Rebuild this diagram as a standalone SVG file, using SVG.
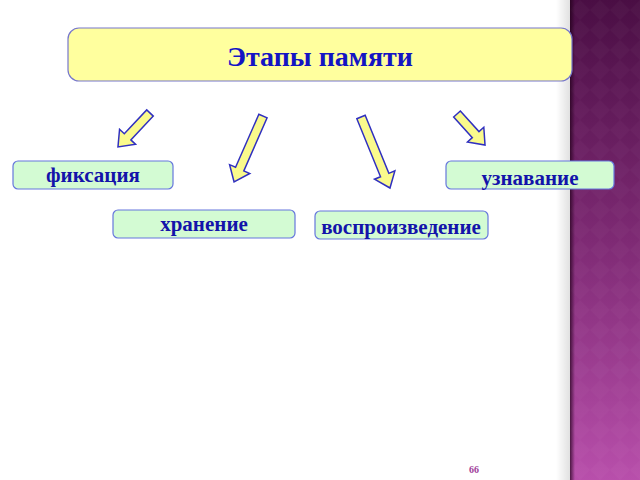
<svg xmlns="http://www.w3.org/2000/svg" width="640" height="480" viewBox="0 0 640 480">
<defs>
<linearGradient id="panel" x1="0" y1="0" x2="0" y2="1">
<stop offset="0" stop-color="#4a0e44"/>
<stop offset="0.5" stop-color="#7e2a74"/>
<stop offset="1" stop-color="#b84fab"/>
</linearGradient>
<linearGradient id="shade" x1="0" y1="0" x2="1" y2="0">
<stop offset="0" stop-color="#000" stop-opacity="0"/>
<stop offset="1" stop-color="#000" stop-opacity="0.12"/>
</linearGradient>
<linearGradient id="edge" x1="0" y1="0" x2="1" y2="0">
<stop offset="0" stop-color="#200018" stop-opacity="0.7"/>
<stop offset="1" stop-color="#200018" stop-opacity="0"/>
</linearGradient>
<pattern id="diam" width="20" height="20" patternUnits="userSpaceOnUse" x="570">
<path d="M10 0 L20 10 L10 20 L0 10 Z" fill="#ffffff" fill-opacity="0.025"/>
</pattern>
</defs>
<style>
.box{fill:#d3fbd3;stroke:#6677dd;stroke-width:1.2}
.lbl{font-family:"Liberation Serif","DejaVu Serif",serif;font-weight:bold;font-size:21px;fill:#1313aa;text-anchor:middle}
.arrow{fill:#fafa8c;stroke:#3030c0;stroke-width:1.5;stroke-linejoin:miter}
</style>
<rect width="640" height="480" fill="#ffffff"/>
<rect x="556" y="0" width="14" height="480" fill="url(#shade)"/>
<g id="panel-bg">
<rect x="570" y="0" width="70" height="480" fill="url(#panel)"/>
<rect x="570" y="0" width="70" height="480" fill="url(#diam)"/>
<rect x="570" y="0" width="5" height="480" fill="url(#edge)"/>
</g>
<g id="title">
<rect x="68" y="28" width="504" height="53" rx="11" fill="#ffff9e" stroke="#7777cc" stroke-width="1.2"/>
<text x="320" y="66" style="font-family:'Liberation Serif','DejaVu Serif',serif;font-weight:bold;font-size:28px;fill:#1414c4;text-anchor:middle">Этапы памяти</text>
</g>
<g id="connectors">
<polygon class="arrow" transform="translate(150,113) rotate(133.3)" points="0,-4.5 32.7,-4.5 32.7,-11 46.7,0 32.7,11 32.7,4.5 0,4.5"/>
<polygon class="arrow" transform="translate(263,116) rotate(113.7)" points="0,-4.5 58,-4.5 58,-11 72,0 58,11 58,4.5 0,4.5"/>
<polygon class="arrow" transform="translate(361,117) rotate(67.8)" points="0,-4.5 62.7,-4.5 62.7,-11 76.7,0 62.7,11 62.7,4.5 0,4.5"/>
<polygon class="arrow" transform="translate(457,114) rotate(47.9)" points="0,-4.5 27.8,-4.5 27.8,-11 41.8,0 27.8,11 27.8,4.5 0,4.5"/>
</g>
<g id="fixation">
<rect class="box" x="13" y="161" width="160" height="28" rx="5"/>
<text class="lbl" x="93" y="182">фиксация</text>
</g>
<g id="storage">
<rect class="box" x="113" y="210" width="182" height="28" rx="5"/>
<text class="lbl" x="204" y="231">хранение</text>
</g>
<g id="reproduction">
<rect class="box" x="315" y="211" width="173" height="28" rx="5"/>
<text class="lbl" x="401" y="234">воспроизведение</text>
</g>
<g id="recognition">
<rect class="box" x="446" y="161" width="168" height="28" rx="5"/>
<text class="lbl" x="530" y="185">узнавание</text>
</g>
<text x="474" y="473" style="font-family:'Liberation Serif','DejaVu Serif',serif;font-weight:bold;font-size:10px;fill:#a0409a;text-anchor:middle">66</text>
</svg>
